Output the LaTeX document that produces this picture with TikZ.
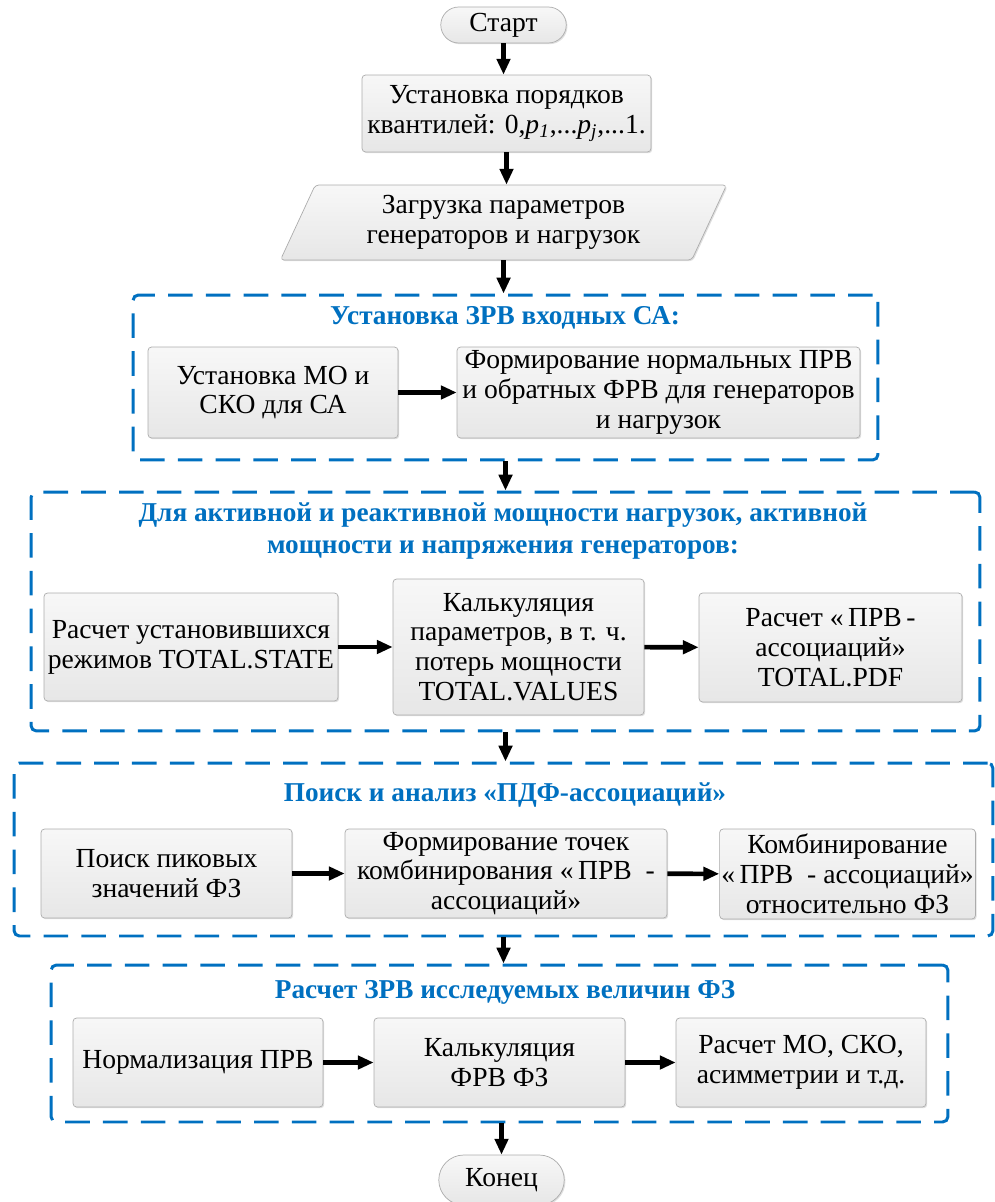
\documentclass[tikz,border=0pt]{standalone}
\usepackage{fontspec}
\setmainfont{LiberationSerif}[Extension=.ttf, UprightFont=*-Regular,
  BoldFont=*-Bold, ItalicFont=*-Italic, BoldItalicFont=*-BoldItalic]
\usetikzlibrary{arrows.meta,shapes.misc,shapes.geometric,shadows}

\definecolor{frameblue}{HTML}{0070C0}

\tikzset{
  block/.style={draw=gray!65, line width=0.4pt, rounded corners=2pt,
    top color=gray!6, bottom color=gray!19, align=center, inner sep=1pt,
    drop shadow={shadow xshift=0.7pt, shadow yshift=-0.7pt, opacity=0.25}},
  term/.style={block, rounded rectangle, rounded corners=0pt},
  group/.style={draw=frameblue, line width=1.7pt, dash pattern=on 14pt off 7.5pt,
    rounded corners=3pt, inner sep=0pt},
  title/.style={text=frameblue, align=center,
    font=\fontsize{15.5}{18.5}\selectfont\bfseries},
  flow/.style={line width=2.6pt, -{Triangle[length=9pt,width=7.5pt]}},
}

\begin{document}
\begin{tikzpicture}[x=0.02cm, y=-0.02cm, font=\fontsize{15.7}{17}\selectfont]
    \useasboundingbox (0,0) rectangle (994,1202);

    % main column
    \node[term, minimum width=2.58cm, minimum height=0.72cm] (start) at (503.5,25) {Старт};
    \node[block, minimum width=5.78cm, minimum height=1.54cm] (quant) at (506.5,113.5)
        {Установка порядков\\квантилей: 0,\textit{p}\textsubscript{\textit{1}},...\textit{p}\textsubscript{\textit{j}},...1.};
    \node[block, trapezium, trapezium left angle=66, trapezium right angle=114,
        trapezium stretches=true, minimum width=8.94cm, minimum height=1.5cm] (load) at (503.5,222.5)
        {Загрузка параметров\\генераторов и нагрузок};

    % input distributions
    \node[group, minimum width=14.9cm, minimum height=3.3cm] (grp1) at (505.5,377.5) {};
    \node[title] (ttl1) at (505,318) {Установка ЗРВ входных СА:};
    \node[block, minimum width=5cm, minimum height=1.82cm] (setmo) at (273,392.5)
        {Установка МО и\\СКО для СА};
    \node[block, minimum width=8.06cm, minimum height=1.82cm] (formprv) at (658.5,392.5)
        {Формирование нормальных ПРВ\\и обратных ФРВ для генераторов\\и нагрузок};

    % steady states
    \node[group, minimum width=18.98cm, minimum height=4.78cm] (grp2) at (505.5,611.5) {};
    \node[title] (ttl2) at (503,531)
        {Для активной и реактивной мощности нагрузок, активной\\мощности и напряжения генераторов:};
    \node[block, minimum width=5.88cm, minimum height=2.16cm] (calcstate) at (191,647)
        {Расчет установившихся\\режимов TOTAL.STATE};
    \node[block, minimum width=5.02cm, minimum height=2.72cm] (calcvalues) at (518.5,647)
        {Калькуляция\\параметров, в т. ч.\\потерь мощности\\TOTAL.VALUES};
    \node[block, minimum width=5.26cm, minimum height=2.18cm] (calcpdf) at (830.5,647.5)
        {Расчет «\,ПРВ\,-\\ассоциаций»\\TOTAL.PDF};

    % associations
    \node[group, minimum width=19.58cm, minimum height=3.46cm] (grp3) at (503.5,849.5) {};
    \node[title] (ttl3) at (505,795) {Поиск и анализ «ПДФ-ассоциаций»};
    \node[block, minimum width=5.02cm, minimum height=1.78cm] (peaks) at (166.5,873.5)
        {Поиск пиковых\\значений ФЗ};
    \node[block, minimum width=6.44cm, minimum height=1.78cm] (points) at (506,873.5)
        {Формирование точек\\комбинирования «\,ПРВ\enspace-\\ассоциаций»};
    \node[block, minimum width=5.02cm, minimum height=1.8cm] (combine) at (847.5,874)
        {Комбинирование\\«\,ПРВ\enspace- ассоциаций»\\относительно ФЗ};

    % output distributions
    \node[group, minimum width=17.94cm, minimum height=3.14cm] (grp4) at (499.5,1043.5) {};
    \node[title] (ttl4) at (505,992) {Расчет ЗРВ исследуемых величин ФЗ};
    \node[block, minimum width=5cm, minimum height=1.78cm] (norm) at (198,1062.5)
        {Нормализация ПРВ};
    \node[block, minimum width=5.02cm, minimum height=1.78cm] (cdf) at (499.5,1062.5)
        {Калькуляция\\ФРВ ФЗ};
    \node[block, minimum width=5cm, minimum height=1.78cm] (stats) at (801,1062.5)
        {Расчет МО, СКО,\\асимметрии и т.д.};

    \node[term, minimum width=2.58cm, minimum height=1cm] (finish) at (501.5,1180) {Конец};

    % vertical flow
    \draw[flow] (start.south) -- (start.south |- quant.north);
    \draw[flow] (quant.south) -- (quant.south |- load.north);
    \draw[flow] (load.south) -- (load.south |- grp1.north);
    \draw[flow] (grp1.south) -- (grp1.south |- grp2.north);
    \draw[flow] (grp2.south) -- (grp2.south |- grp3.north);
    \draw[flow] (grp3.south) -- (grp3.south |- grp4.north);
    \draw[flow] (grp4.south -| finish.north) -- (finish.north);

    % horizontal flow
    \draw[flow] (setmo) -- (formprv);
    \draw[flow] (calcstate) -- (calcvalues);
    \draw[flow] (calcvalues) -- (calcpdf);
    \draw[flow] (peaks) -- (points);
    \draw[flow] (points) -- (combine);
    \draw[flow] (norm) -- (cdf);
    \draw[flow] (cdf) -- (stats);
\end{tikzpicture}
\end{document}
